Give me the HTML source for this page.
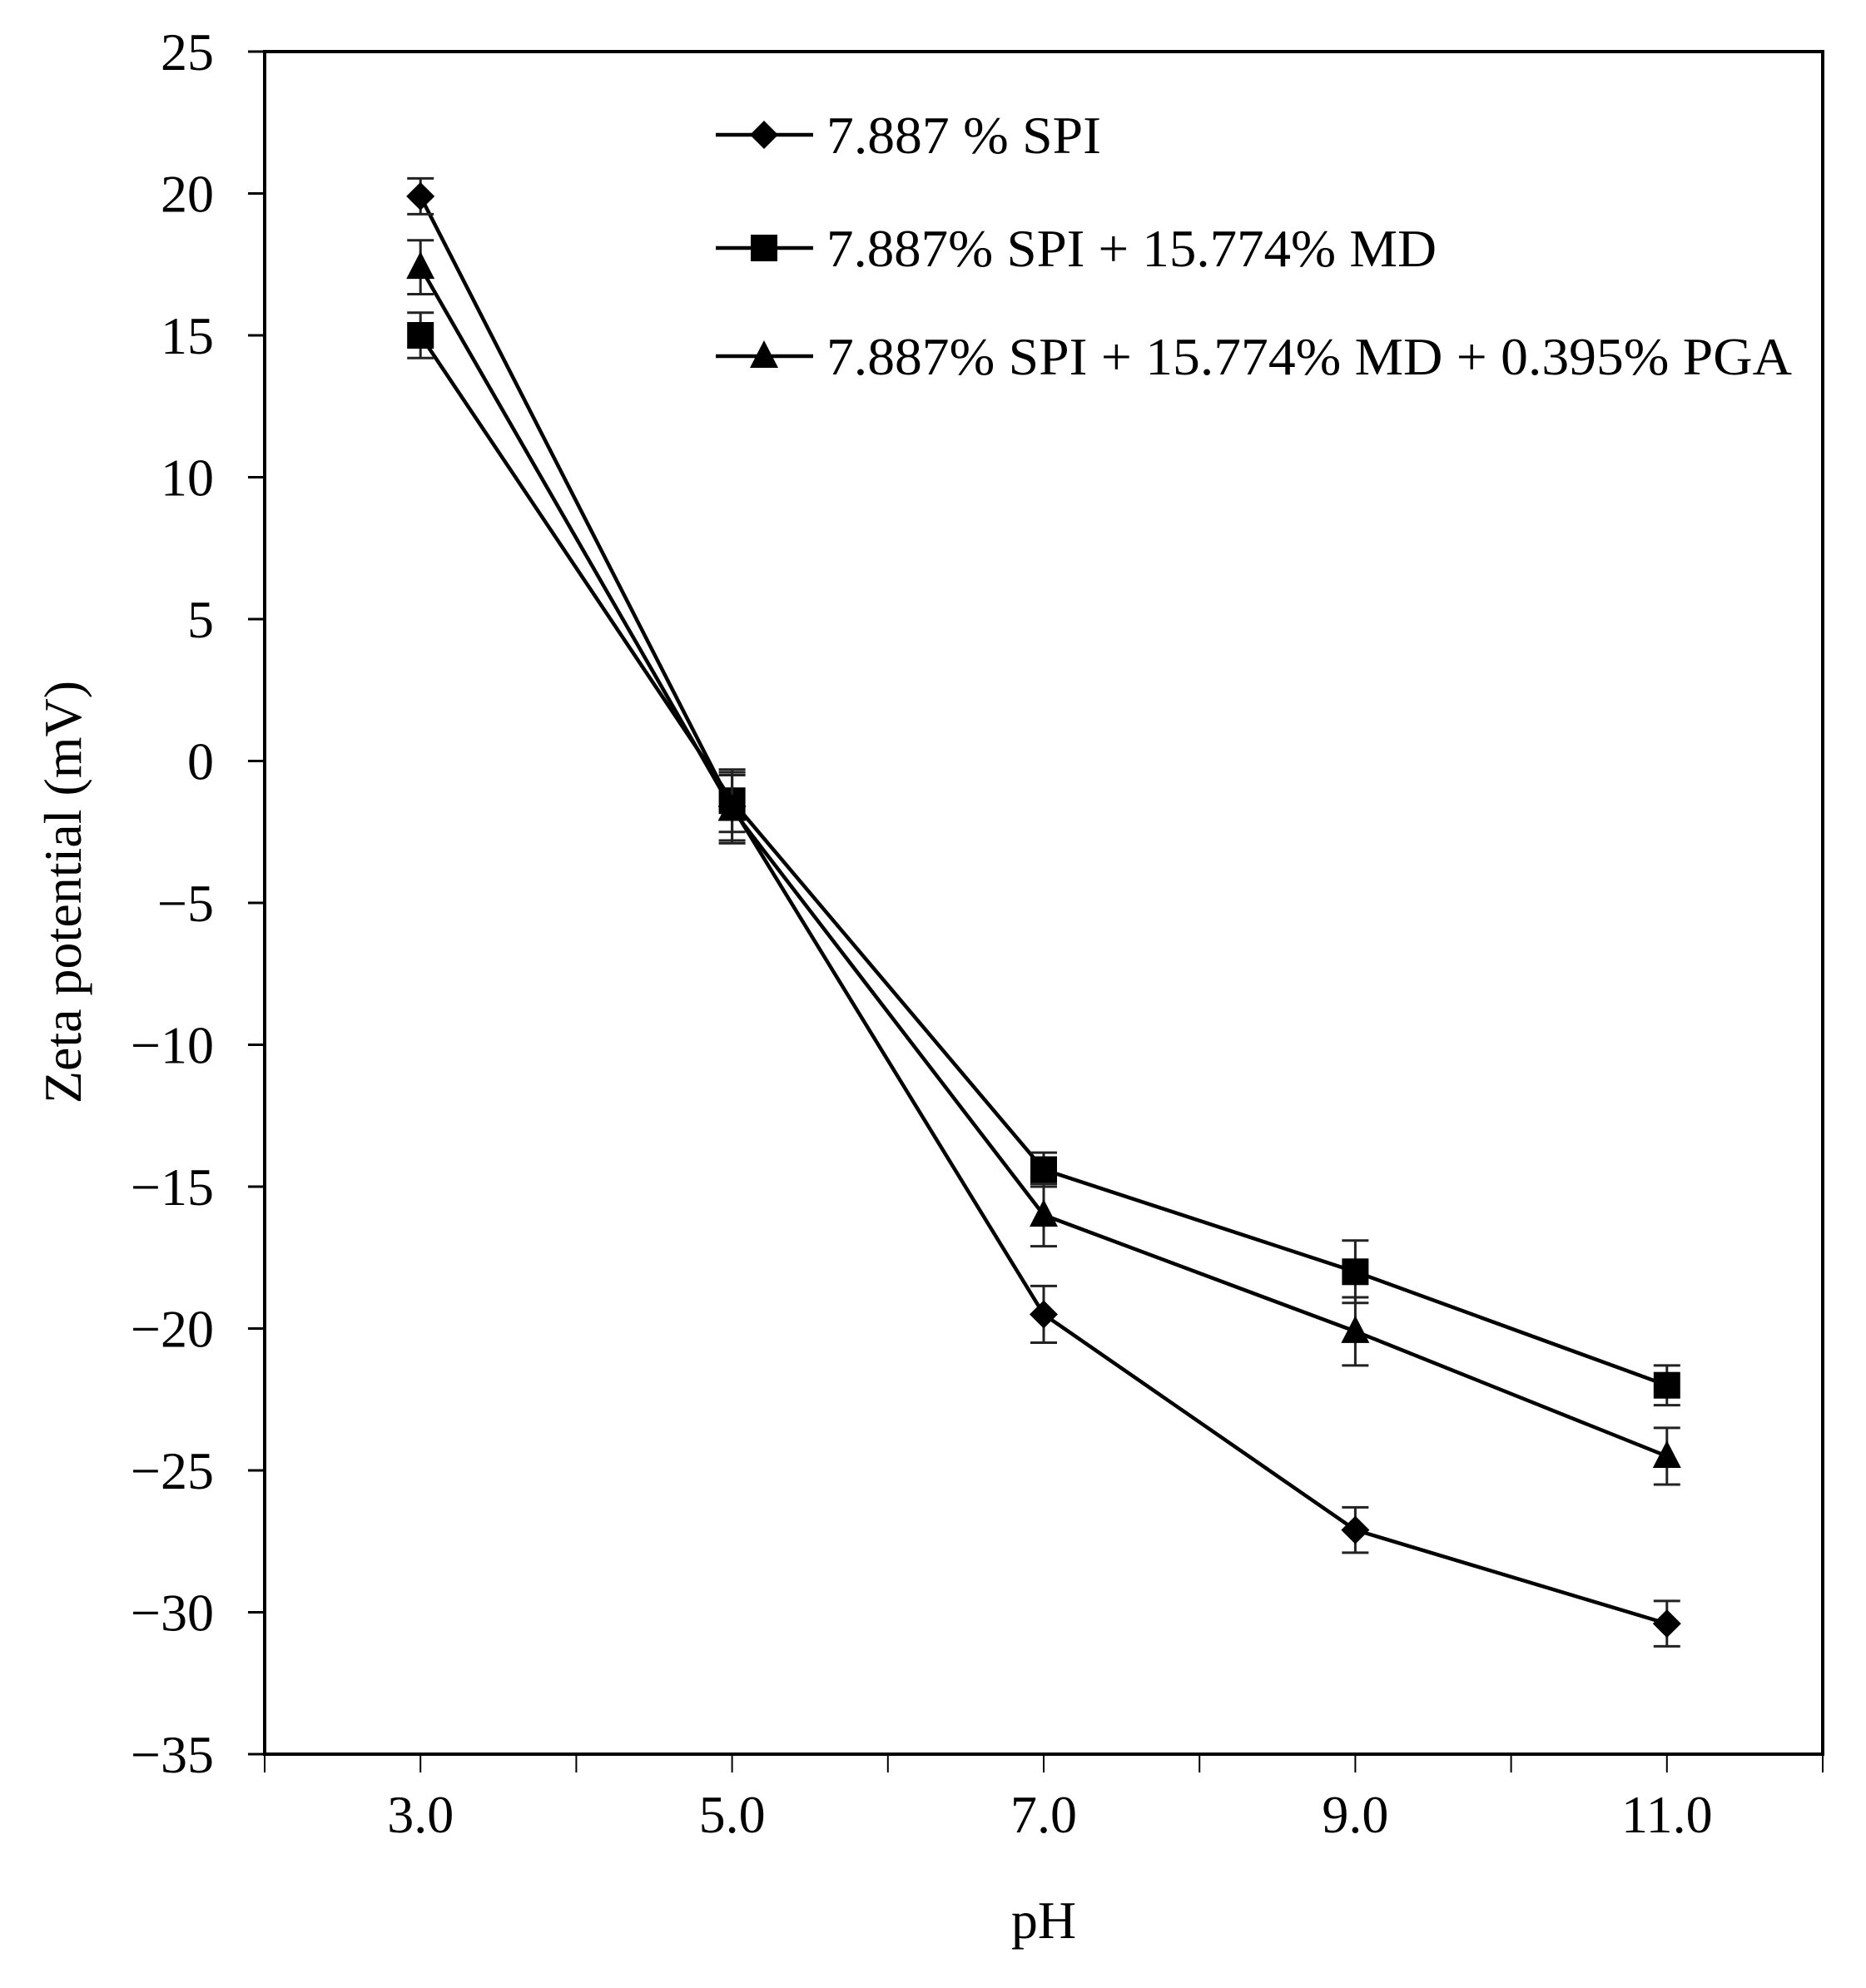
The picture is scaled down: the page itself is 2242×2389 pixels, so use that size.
<!DOCTYPE html>
<html><head><meta charset="utf-8"><style>html,body{margin:0;padding:0;background:#fff}</style></head>
<body>
<svg xmlns="http://www.w3.org/2000/svg" width="2242" height="2384" viewBox="0 0 2242 2384" font-family="Liberation Serif, serif" fill="#000">
<rect width="2242" height="2384" fill="#fff"/>
<g id="plot"></g>
<script>
(function(){
const NS="http://www.w3.org/2000/svg";
const g=document.getElementById('plot');
const X0=318,X1=2190,Y0=62,Y1=2108;
const px=v=>X0+(v-2)*(X1-X0)/10;
const py=v=>Y0+(25-v)*(Y1-Y0)/60;
function el(t,a,txt){const e=document.createElementNS(NS,t);for(const k in a)e.setAttribute(k,a[k]);if(txt!==undefined)e.textContent=txt;g.appendChild(e);return e;}
el('rect',{x:X0,y:Y0,width:X1-X0,height:Y1-Y0,fill:'none',stroke:'#000','stroke-width':4});
for(let v=25;v>=-35;v-=5){const y=py(v);el('line',{x1:X0-20,y1:y,x2:X0,y2:y,stroke:'#000','stroke-width':3});
 el('text',{x:257,y:y+22,'font-size':64,'text-anchor':'end'},(v<0?'\u2212'+(-v):''+v));}
for(let v=2;v<=12;v++){const x=px(v);el('line',{x1:x,y1:Y1,x2:x,y2:Y1+22,stroke:'#000','stroke-width':2});}
[3,5,7,9,11].forEach(v=>el('text',{x:px(v),y:2202,'font-size':64,'text-anchor':'middle'},v.toFixed(1)));
el('text',{x:px(7),y:2329,'font-size':64,'text-anchor':'middle'},'pH');
el('text',{x:0,y:0,'font-size':64,'text-anchor':'middle',transform:'translate(97,1072) rotate(-90)'},'Zeta potential (mV)');
const xs=[3,5,7,9,11];
const S=[
 {m:'d',v:[19.9,-1.6,-19.5,-27.1,-30.4],e:[0.63,1.2,1.0,0.8,0.8]},
 {m:'s',v:[15.0,-1.4,-14.4,-18.0,-22.0],e:[0.8,1.1,0.6,1.1,0.7]},
 {m:'t',v:[17.4,-1.7,-16.0,-20.1,-24.5],e:[0.95,1.2,1.1,1.2,1.0]}];
function marker(m,x,y){
 if(m==='d')el('polygon',{points:`${x},${y-17} ${x+17},${y} ${x},${y+17} ${x-17},${y}`});
 else if(m==='s')el('rect',{x:x-16,y:y-16,width:32,height:32});
 else el('polygon',{points:`${x},${y-19} ${x+17},${y+14} ${x-17},${y+14}`});
}
S.forEach(s=>{
 el('polyline',{points:xs.map((x,i)=>px(x)+','+py(s.v[i])).join(' '),fill:'none',stroke:'#000','stroke-width':4.5});
 xs.forEach((x,i)=>{const X=px(x),a=py(s.v[i]+s.e[i]),b=py(s.v[i]-s.e[i]);
  el('line',{x1:X,y1:a,x2:X,y2:b,stroke:'#222','stroke-width':3});
  el('line',{x1:X-16,y1:a,x2:X+16,y2:a,stroke:'#222','stroke-width':3});
  el('line',{x1:X-16,y1:b,x2:X+16,y2:b,stroke:'#222','stroke-width':3});
  marker(s.m,X,py(s.v[i]));});
});
const L=[['d','7.887 % SPI',162,330],['s','7.887% SPI + 15.774% MD',298,733],['t','7.887% SPI + 15.774% MD + 0.395% PGA',428,1160]];
L.forEach(([m,t,y,w])=>{el('line',{x1:860,y1:y,x2:977,y2:y,stroke:'#000','stroke-width':4.5});marker(m,918,y);
 el('text',{x:993,y:y+22,'font-size':64,textLength:w,lengthAdjust:'spacingAndGlyphs'},t);});
})();
</script>
</svg>
</body></html>
